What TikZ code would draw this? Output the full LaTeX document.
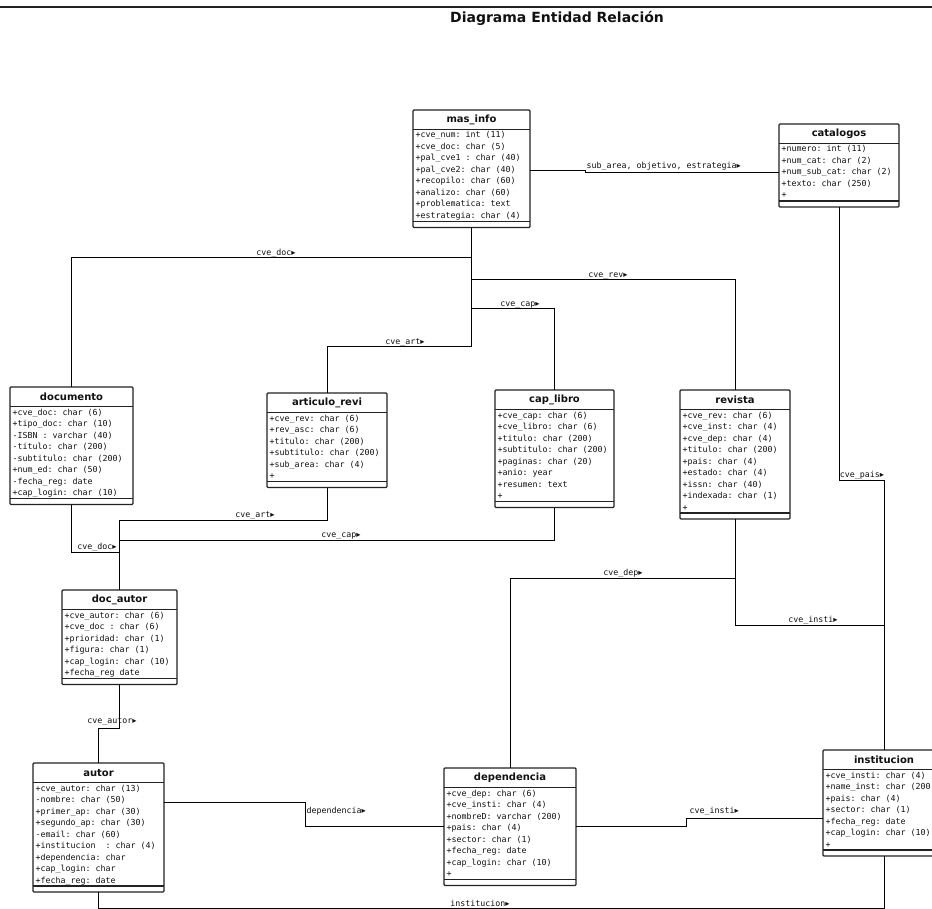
\documentclass[tikz,border=0pt]{standalone}
\usepackage{fontspec}
\setmainfont{DejaVu Sans}
\setmonofont{DejaVu Sans Mono}
\newfontfamily\symf{DejaVu Sans}
\newcommand\tri{{\symf ▸}}
\definecolor{boxc}{HTML}{222222}
\definecolor{txt}{HTML}{111111}
\tikzset{
  erframe/.style={draw=boxc, line width=1.1pt, inner sep=0pt, outer sep=0pt, fill=white, rounded corners=1pt, anchor=north west},
  ersep/.style={draw=boxc, line width=1.1pt},
  ertitle/.style={font=\fontsize{10}{11}\selectfont\bfseries, inner sep=0pt, text=txt},
  erattr/.style={font=\ttfamily\fontsize{8.3}{9}\selectfont, inner sep=0pt, anchor=base west, text=txt},
  rel/.style={draw=black, line width=1pt},
  rlab/.style={font=\ttfamily\fontsize{8.3}{9}\selectfont, inner sep=0.5pt, anchor=south, text=txt},
  ttl/.style={font=\fontsize{14}{16}\selectfont\bfseries, inner sep=0pt, text=txt}
}
% #1 name, #2 x, #3 y(top), #4 width, #5 rows count, #6 title, #7 rows
\newcommand\erbox[7]{%
  \pgfmathsetmacro\erh{19.5+#5*11.5+6}%
  \node[erframe, minimum width=#4pt, minimum height=\erh pt] (#1) at (#2,#3) {};
  \draw[ersep] ([yshift=-19.5pt]#1.north west) -- ([yshift=-19.5pt]#1.north east);
  \draw[ersep] ([yshift=6pt]#1.south west) -- ([yshift=6pt]#1.south east);
  \node[ertitle] (#1-t) at ([yshift=-10pt]#1.north) {#6};
  \foreach \r [count=\i] in {#7} {
    \node[erattr] (#1-\i) at ([xshift=2.5pt, yshift={-19.5pt-\i*11.5pt+3pt}]#1.north west) {\r};
  }
}
\begin{document}
\begin{tikzpicture}[x=1pt, y=-1pt]
\clip (0,0) rectangle (932,909);
\fill[white] (0,0) rectangle (932,909);
\draw[line width=1.2pt, boxc] (0,7) -- (932,7);
\node[ttl] (title) at (557,18) {Diagrama Entidad Relación};

\erbox{masinfo}{413}{110}{117}{8}{mas\_info}{{+cve\_num: int (11)},{+cve\_doc: char (5)},{+pal\_cve1 : char (40)},{+pal\_cve2: char (40)},{+recopilo: char (60)},{+analizo: char (60)},{+problematica: text},{+estrategia: char (4)}}
\erbox{catalogos}{779}{124}{120}{5}{catalogos}{{+numero: int (11)},{+num\_cat: char (2)},{+num\_sub\_cat: char (2)},{+texto: char (250)},{+}}
\erbox{documento}{10}{387}{123}{8}{documento}{{+cve\_doc: char (6)},{+tipo\_doc: char (10)},{-ISBN : varchar (40)},{-titulo: char (200)},{-subtitulo: char (200)},{+num\_ed: char (50)},{-fecha\_reg: date},{+cap\_login: char (10)}}
\erbox{articulo}{267}{393}{120}{6}{articulo\_revi}{{+cve\_rev: char (6)},{+rev\_asc: char (6)},{+titulo: char (200)},{+subtitulo: char (200)},{+sub\_area: char (4)},{+}}
\erbox{caplibro}{495}{390}{119}{8}{cap\_libro}{{+cve\_cap: char (6)},{+cve\_libro: char (6)},{+titulo: char (200)},{+subtitulo: char (200)},{+paginas: char (20)},{+anio: year},{+resumen: text},{+}}
\erbox{revista}{680}{390}{110}{9}{revista}{{+cve\_rev: char (6)},{+cve\_inst: char (4)},{+cve\_dep: char (4)},{+titulo: char (200)},{+pais: char (4)},{+estado: char (4)},{+issn: char (40)},{+indexada: char (1)},{+}}
\erbox{docautor}{62}{590}{115}{6}{doc\_autor}{{+cve\_autor: char (6)},{+cve\_doc : char (6)},{+prioridad: char (1)},{+figura: char (1)},{+cap\_login: char (10)},{+fecha\_reg date}}
\erbox{autor}{33}{763}{131}{9}{autor}{{+cve\_autor: char (13)},{-nombre: char (50)},{+primer\_ap: char (30)},{+segundo\_ap: char (30)},{-email: char (60)},{+institucion\ \ : char (4)},{+dependencia: char},{+cap\_login: char},{+fecha\_reg: date}}
\erbox{dependencia}{444}{768}{132}{8}{dependencia}{{+cve\_dep: char (6)},{+cve\_insti: char (4)},{+nombreD: varchar (200)},{+pais: char (4)},{+sector: char (1)},{+fecha\_reg: date},{+cap\_login: char (10)},{+}}
\erbox{institucion}{823}{750}{122}{7}{institucion}{{+cve\_insti: char (4)},{+name\_inst: char (200)},{+pais: char (4)},{+sector: char (1)},{+fecha\_reg: date},{+cap\_login: char (10)},{+}}

% upper tree
\draw[rel] (masinfo.south) -- (masinfo.south |- 0,347) -| (articulo.north);
\draw[rel] (masinfo.south |- 0,258) -| (documento.north);
\draw[rel] (masinfo.south |- 0,280) -| (revista.north);
\draw[rel] (masinfo.south |- 0,309) -| (caplibro.north);
\node[rlab] (lbdoc) at (276,258) {cve\_doc\tri};
\node[rlab] (lbrev) at (608,280) {cve\_rev\tri};
\node[rlab] (lbcap) at (520,309) {cve\_cap\tri};
\node[rlab] (lbart) at (405,347) {cve\_art\tri};

% mas_info - catalogos
\draw[rel] ([yshift=-1.5pt]masinfo.east) -- (585,170.25) |- ([yshift=-7pt]catalogos.west);
\node[rlab, anchor=south west] (lbsub) at (586,171.5) {sub\_area, objetivo, estrategia\tri};

% lower tree
\draw[rel] (documento.south) |- (docautor.north |- 0,552);
\draw[rel] (articulo.south) |- (docautor.north |- 0,520) -- (docautor.north);
\draw[rel] (caplibro.south) |- (docautor.north |- 0,540);
\node[rlab] (lbdoc2) at (97,552) {cve\_doc\tri};
\node[rlab] (lbart2) at (255,520) {cve\_art\tri};
\node[rlab] (lbcap2) at (341,540) {cve\_cap\tri};

\draw[rel] (docautor.south) -- (docautor.south |- 0,728) -| (autor.north);
\node[rlab] (lbautor) at (112,726) {cve\_autor\tri};

\draw[rel] ([yshift=25pt]autor.east) -- (305,802.5) |- (dependencia.west);
\node[rlab, anchor=base west] (lbdep) at (306,813) {dependencia\tri};

\draw[rel] (dependencia.east) -- (686,826.75) |- ([yshift=-15pt]institucion.west);
\node[rlab, anchor=base west] (lbinsti) at (689,813) {cve\_insti\tri};

\draw[rel] (revista.south) |- (institucion.north |- 0,625);
\node[rlab] (lbinsti2) at (813,625) {cve\_insti\tri};
\draw[rel] (dependencia.north) |- (revista.south |- 0,578);
\node[rlab] (lbdep2) at (623,578) {cve\_dep\tri};
\draw[rel] (catalogos.south) |- (institucion.north |- 0,480) -- (institucion.north);
\node[rlab] (lbpais) at (862,480) {cve\_pais\tri};
\draw[rel] (autor.south) -- (autor.south |- 0,908) -| (institucion.south);
\node[rlab] (lbinst) at (480,907) {institucion\tri};
\end{tikzpicture}
\end{document}
